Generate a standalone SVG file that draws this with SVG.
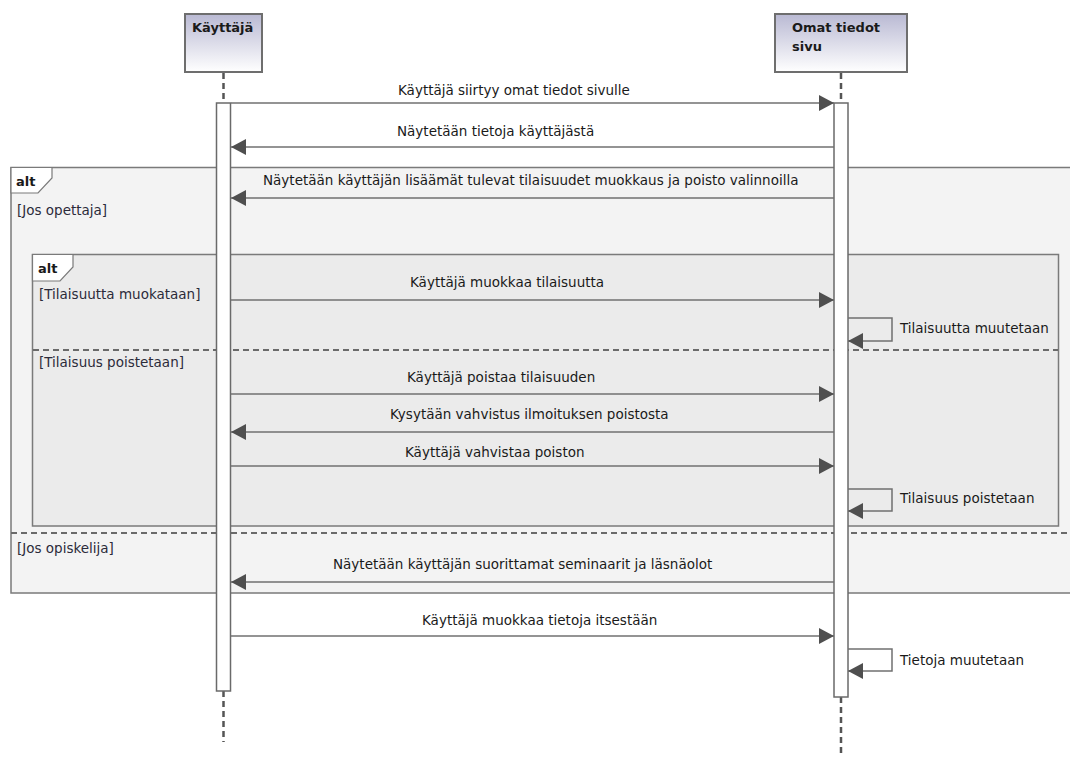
<svg xmlns="http://www.w3.org/2000/svg" width="1070" height="757" viewBox="0 0 1070 757">
<style>
text{font-family:"DejaVu Sans","Liberation Sans",sans-serif;font-size:13.5px;fill:#1a1a1a}
.b{font-weight:bold;font-size:13px}
.g{fill:#2b2b3a}
.frame{stroke:#7a7a7a;stroke-width:1.5}
.sep{stroke:#6a6a6a;stroke-width:2;stroke-dasharray:6 4;fill:none}
.life{stroke:#555;stroke-width:2.5;stroke-dasharray:6 4;fill:none}
.bar{fill:#fff;stroke:#6a6a6a;stroke-width:1.5}
.head{fill:url(#hg);stroke:#6e6e6e;stroke-width:2}
.msg{stroke:#707070;stroke-width:1.5;fill:none}
.tag{fill:#fff;stroke:#7a7a7a;stroke-width:1.2}
</style>
<defs>
<linearGradient id="hg" x1="0" y1="0" x2="0" y2="1">
<stop offset="0" stop-color="#b9b9d3"/>
<stop offset="1" stop-color="#ffffff"/>
</linearGradient>
<marker id="ah" markerUnits="userSpaceOnUse" markerWidth="16" markerHeight="16" refX="15" refY="8" orient="auto">
<path d="M0,0 L15,8 L0,16 Z" fill="#4f4f4f"/>
</marker>
</defs>
<rect width="1070" height="757" fill="#fff"/>

<g id="frame-outer">
<rect x="11" y="167.5" width="1070" height="425.5" fill="#f3f3f3" class="frame"/>
<path d="M11,167.5 H52 V178 L38,193 H11 Z" class="tag"/>
<text x="16" y="186" class="b">alt</text>
<text x="17" y="215" class="g">[Jos opettaja]</text>
<line x1="11" y1="533" x2="1070" y2="533" class="sep"/>
<text x="17" y="553" class="g">[Jos opiskelija]</text>
</g>

<g id="frame-inner">
<rect x="32.5" y="254.5" width="1026" height="271.5" fill="#ebebeb" class="frame"/>
<path d="M32.5,254.5 H73 V267 L60,281 H32.5 Z" class="tag"/>
<text x="38" y="273" class="b">alt</text>
<text x="39" y="299" class="g">[Tilaisuutta muokataan]</text>
<line x1="33" y1="350" x2="1058" y2="350" class="sep"/>
<text x="39" y="367" class="g">[Tilaisuus poistetaan]</text>
</g>

<g id="kayttaja">
<rect x="185" y="14" width="77" height="58" class="head"/>
<text x="192" y="32" class="b">Käyttäjä</text>
<line x1="223.5" y1="73" x2="223.5" y2="103" class="life"/>
<line x1="223.5" y1="691" x2="223.5" y2="742" class="life"/>
<rect x="216.5" y="103" width="14" height="588" class="bar"/>
</g>

<g id="omat-tiedot-sivu">
<rect x="775" y="14" width="132" height="58" class="head"/>
<text x="792" y="32" class="b">Omat tiedot</text>
<text x="792" y="51" class="b">sivu</text>
<line x1="841" y1="73" x2="841" y2="103" class="life"/>
<line x1="841" y1="697" x2="841" y2="757" class="life"/>
<rect x="834" y="103" width="14" height="594" class="bar"/>
</g>

<g id="connectors">
<line x1="231" y1="103" x2="834" y2="103" class="msg" marker-end="url(#ah)"/>
<text x="398" y="95">Käyttäjä siirtyy omat tiedot sivulle</text>
<line x1="834" y1="147" x2="231" y2="147" class="msg" marker-end="url(#ah)"/>
<text x="397" y="136">Näytetään tietoja käyttäjästä</text>
<line x1="834" y1="198" x2="231" y2="198" class="msg" marker-end="url(#ah)"/>
<text x="263" y="185">Näytetään käyttäjän lisäämät tulevat tilaisuudet muokkaus ja poisto valinnoilla</text>
<line x1="231" y1="300" x2="834" y2="300" class="msg" marker-end="url(#ah)"/>
<text x="410" y="287">Käyttäjä muokkaa tilaisuutta</text>
<path d="M848,318 H892 V341 H848" class="msg" marker-end="url(#ah)"/>
<text x="900" y="333">Tilaisuutta muutetaan</text>
<line x1="231" y1="394" x2="834" y2="394" class="msg" marker-end="url(#ah)"/>
<text x="407" y="382">Käyttäjä poistaa tilaisuuden</text>
<line x1="834" y1="432" x2="231" y2="432" class="msg" marker-end="url(#ah)"/>
<text x="390" y="419">Kysytään vahvistus ilmoituksen poistosta</text>
<line x1="231" y1="466" x2="834" y2="466" class="msg" marker-end="url(#ah)"/>
<text x="405" y="457">Käyttäjä vahvistaa poiston</text>
<path d="M848,489 H892 V511 H848" class="msg" marker-end="url(#ah)"/>
<text x="900" y="503">Tilaisuus poistetaan</text>
<line x1="834" y1="582" x2="231" y2="582" class="msg" marker-end="url(#ah)"/>
<text x="333" y="569">Näytetään käyttäjän suorittamat seminaarit ja läsnäolot</text>
<line x1="231" y1="636" x2="834" y2="636" class="msg" marker-end="url(#ah)"/>
<text x="422" y="625">Käyttäjä muokkaa tietoja itsestään</text>
<path d="M848,649 H892 V671 H848" class="msg" marker-end="url(#ah)"/>
<text x="900" y="665">Tietoja muutetaan</text>
</g>
</svg>
